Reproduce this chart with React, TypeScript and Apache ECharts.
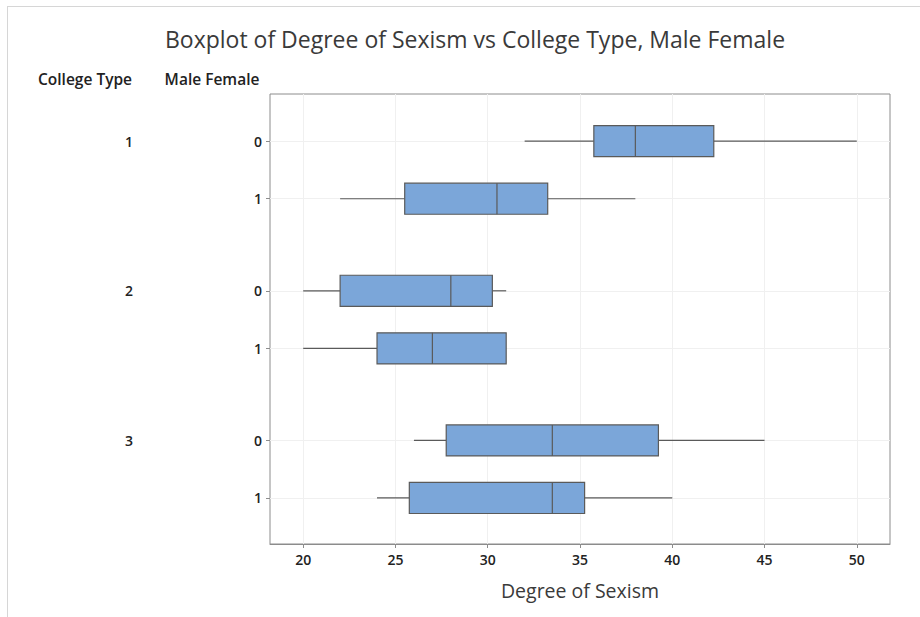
import React, { useEffect, useRef } from "react";
import * as echarts from "echarts";

const collegeTypes = ["1", "2", "3"];
const genders = ["0", "1"];
// rows in order: (1,0), (1,1), (2,0), (2,1), (3,0), (3,1)
const mins = [32.0, 22.0, 20.0, 20.0, 26.0, 24.0];
const q1s = [35.75, 25.5, 22.0, 24.0, 27.75, 25.75];
const medians = [38.0, 30.5, 28.0, 27.0, 33.5, 33.5];
const q3s = [42.25, 33.25, 30.25, 31.0, 39.25, 35.25];
const maxs = [50.0, 38.0, 31.0, 31.0, 45.0, 40.0];
const xTicks = [20, 25, 30, 35, 40, 45, 50];

const FONT = "'Open Sans', 'Noto Sans', sans-serif";
const GROUP_STEP = 2.6;

export default function App() {
  const ref = useRef<HTMLDivElement>(null);

  useEffect(() => {
    if (!ref.current) return;
    const chart = echarts.init(ref.current, null, { renderer: "svg" });

    const rowPos: number[] = [];
    const rowLabel: Record<string, string> = {};
    collegeTypes.forEach((_, g) => {
      genders.forEach((gd, s) => {
        const p = +(g * GROUP_STEP + s).toFixed(2);
        rowPos.push(p);
        rowLabel[String(p)] = gd;
      });
    });
    const groupPos = collegeTypes.map((_, g) => +(g * GROUP_STEP).toFixed(2));
    const groupLabel: Record<string, string> = {};
    groupPos.forEach((p, g) => (groupLabel[String(p)] = collegeTypes[g]));

    const data = rowPos.map((p, i) => [p, mins[i], q1s[i], medians[i], q3s[i], maxs[i]]);

    const yMin = -0.82;
    const yMax = 7.0;

    chart.setOption({
      animation: false,
      backgroundColor: "#ffffff",
      title: {
        text: "Boxplot of Degree of Sexism vs College Type, Male Female",
        left: 470,
        top: 22,
        textAlign: "center",
        textStyle: { fontFamily: FONT, fontSize: 23, fontWeight: 500, color: "#3a3a3a" },
      },
      grid: {
        left: 270,
        right: 30,
        top: 94,
        bottom: 73,
        show: true,
        borderColor: "#8c8c8c",
        borderWidth: 1,
        backgroundColor: "transparent",
      },
      xAxis: {
        type: "value",
        min: 18.2,
        max: 51.8,
        name: "Degree of Sexism",
        nameLocation: "middle",
        nameGap: 36,
        nameTextStyle: { fontFamily: FONT, fontSize: 19.5, fontWeight: 500, color: "#3a3a3a" },
        axisLine: { show: true, onZero: false, lineStyle: { color: "#8c8c8c" } },
        axisTick: {
          show: true,
          length: 4,
          customValues: xTicks,
          lineStyle: { color: "#8c8c8c" },
        },
        axisLabel: {
          customValues: xTicks,
          margin: 8,
          fontFamily: FONT,
          fontSize: 14,
          fontWeight: 600,
          color: "#222",
        },
        splitLine: { show: true, lineStyle: { color: "#f0f0f0", width: 1 } },
      },
      yAxis: [
        {
          type: "value",
          inverse: true,
          min: yMin,
          max: yMax,
          axisLine: { show: false, onZero: false },
          axisTick: {
            show: true,
            length: 4,
            customValues: rowPos,
            lineStyle: { color: "#8c8c8c" },
          },
          axisLabel: {
            customValues: rowPos,
            margin: 8,
            fontFamily: FONT,
            fontSize: 14,
            fontWeight: 600,
            color: "#222",
            formatter: (v: number) => rowLabel[String(+v.toFixed(2))] ?? "",
          },
          splitLine: { show: true, lineStyle: { color: "#f0f0f0", width: 1 } },
        },
        {
          type: "value",
          inverse: true,
          min: yMin,
          max: yMax,
          position: "left",
          offset: 137,
          axisLine: { show: false, onZero: false },
          axisTick: { show: false, customValues: groupPos },
          splitLine: { show: false },
          axisLabel: {
            customValues: groupPos,
            margin: 0,
            fontFamily: FONT,
            fontSize: 14,
            fontWeight: 600,
            color: "#222",
            formatter: (v: number) => groupLabel[String(+v.toFixed(2))] ?? "",
          },
        },
      ],
      graphic: [
        {
          type: "line",
          shape: { x1: 7, y1: 6.5, x2: 920, y2: 6.5 },
          style: { stroke: "#d6d6d6", lineWidth: 1 },
          silent: true,
        },
        {
          type: "line",
          shape: { x1: 7.5, y1: 6, x2: 7.5, y2: 617 },
          style: { stroke: "#d6d6d6", lineWidth: 1 },
          silent: true,
        },
        {
          type: "text",
          x: 85,
          y: 79,
          style: {
            text: "College Type",
            fontFamily: FONT,
            fontSize: 15.5,
            fontWeight: 600,
            fill: "#222",
            align: "center",
            verticalAlign: "middle",
          },
        },
        {
          type: "text",
          x: 212,
          y: 79,
          style: {
            text: "Male Female",
            fontFamily: FONT,
            fontSize: 15.5,
            fontWeight: 600,
            fill: "#222",
            align: "center",
            verticalAlign: "middle",
          },
        },
      ],
      series: [
        {
          type: "custom",
          xAxisIndex: 0,
          yAxisIndex: 0,
          encode: { x: [1, 2, 3, 4, 5], y: 0 },
          data,
          renderItem: (params: any, api: any) => {
            const y = api.value(0);
            const lo = api.coord([api.value(1), y]);
            const q1 = api.coord([api.value(2), y]);
            const md = api.coord([api.value(3), y]);
            const q3 = api.coord([api.value(4), y]);
            const hi = api.coord([api.value(5), y]);
            const h = api.size([0, 0.54])[1];
            const cy = lo[1];
            const stroke = "#5a5a5a";
            const children: any[] = [];
            if (q1[0] - lo[0] > 0.5)
              children.push({
                type: "line",
                shape: { x1: lo[0], y1: cy, x2: q1[0], y2: cy },
                style: { stroke, lineWidth: 1.2 },
              });
            if (hi[0] - q3[0] > 0.5)
              children.push({
                type: "line",
                shape: { x1: q3[0], y1: cy, x2: hi[0], y2: cy },
                style: { stroke, lineWidth: 1.2 },
              });
            children.push({
              type: "rect",
              shape: { x: q1[0], y: cy - h / 2, width: q3[0] - q1[0], height: h },
              style: { fill: "#7ba6d9", stroke, lineWidth: 1.2 },
            });
            children.push({
              type: "line",
              shape: { x1: md[0], y1: cy - h / 2, x2: md[0], y2: cy + h / 2 },
              style: { stroke, lineWidth: 1.2 },
            });
            return { type: "group", children };
          },
        },
      ],
    });

    return () => chart.dispose();
  }, []);

  return (
    <div
      ref={ref}
      style={{ position: "fixed", left: 0, top: 0, width: 920, height: 617 }}
    />
  );
}
